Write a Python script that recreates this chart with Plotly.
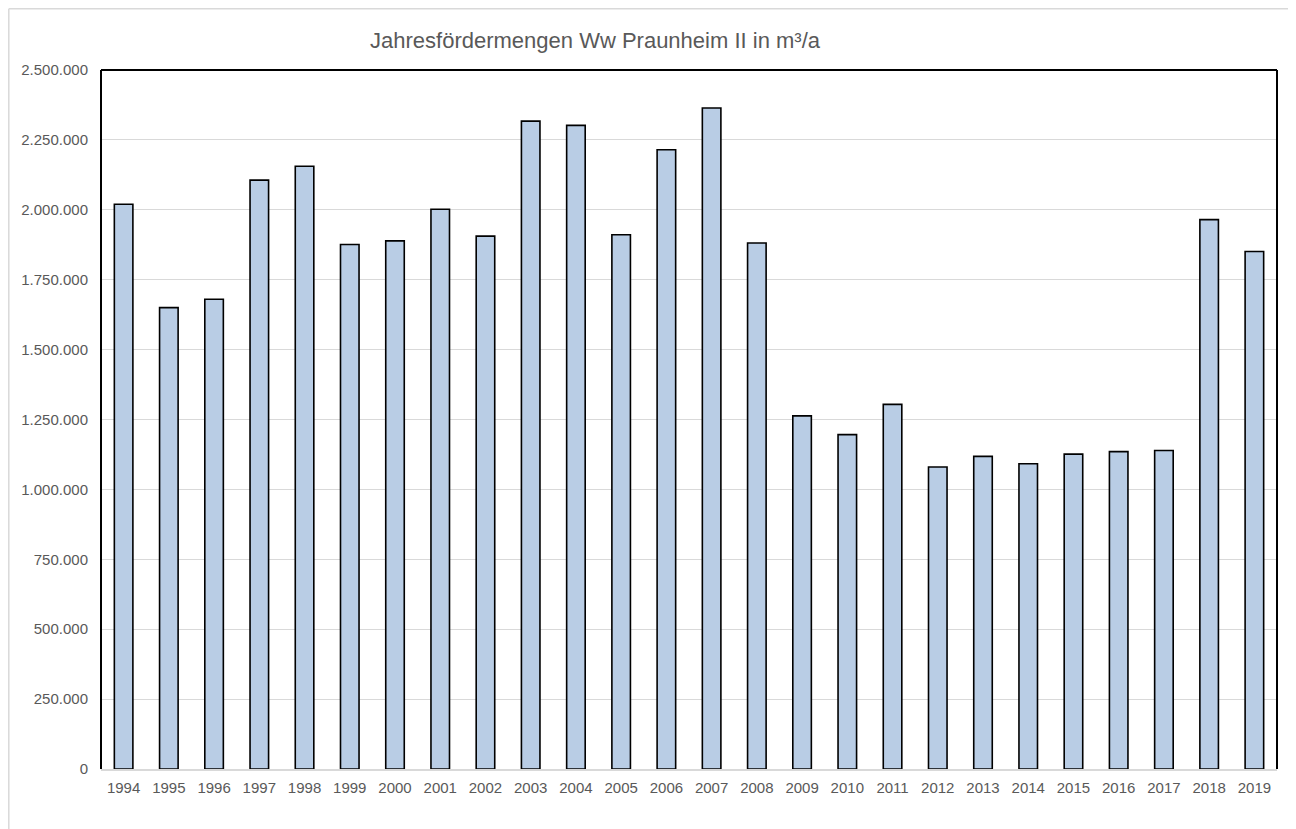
import plotly.graph_objects as go

years = [str(y) for y in range(1994, 2020)]
values = [2020000, 1650000, 1680000, 2106000, 2156000, 1876000, 1889000, 2002000,
          1906000, 2317000, 2302000, 1911000, 2215000, 2364000, 1881000, 1263000,
          1196000, 1304000, 1080000, 1118000, 1092000, 1126000, 1135000, 1139000,
          1965000, 1851000]
title_text = "Jahresfördermengen Ww Praunheim II in m³/a"

# page offset of the plotly div (body margin)
OFF = 8
W, H = 1282, 821
L, R, T, B = 93, 13, 62, 60
pw, ph = W - L - R, H - T - B

def px(x):  # page pixel -> paper x
    return (x - OFF - L) / pw

def py(y):  # page pixel -> paper y
    return (H - B - (y - OFF)) / ph

fig = go.Figure(go.Bar(
    x=years, y=values,
    marker=dict(color="#B9CDE5", line=dict(color="#000000", width=1.6)),
    width=0.41,
))

frame_gray = dict(color="#D9D9D9", width=1.5)
fig.update_layout(
    width=W, height=H,
    margin=dict(l=L, r=R, t=T, b=B),
    paper_bgcolor="white", plot_bgcolor="white",
    separators=",.",
    showlegend=False,
    font=dict(family="Liberation Sans, Arial, sans-serif", color="#595959", size=15),
    title=dict(text=title_text, x=px(595), xanchor="center", xref="paper",
               y=1 - (40 - OFF) / H, yanchor="middle",
               font=dict(size=22, color="#595959")),
    xaxis=dict(showgrid=False, showline=True, linecolor="#D9D9D9", linewidth=1.5,
               ticks="", tickfont=dict(size=15, color="#595959"), ticklabelstandoff=4),
    yaxis=dict(range=[0, 2500000], tickvals=list(range(0, 2500001, 250000)),
               tickformat=",d", showgrid=True, gridcolor="#D9D9D9", gridwidth=1.2,
               zeroline=False, showline=False, ticks="",
               tickfont=dict(size=15, color="#595959"), ticklabelstandoff=12),
    shapes=[
        dict(type="line", xref="paper", yref="paper", x0=0, x1=0, y0=0, y1=1,
             line=dict(color="black", width=2)),
        dict(type="line", xref="paper", yref="paper", x0=0, x1=1, y0=1, y1=1,
             line=dict(color="black", width=2)),
        dict(type="line", xref="paper", yref="paper", x0=1, x1=1, y0=0, y1=1,
             line=dict(color="black", width=2)),
        dict(type="line", xref="paper", yref="paper", x0=px(8.8), x1=px(8.8),
             y0=py(840), y1=py(8.8), line=frame_gray, layer="below"),
        dict(type="line", xref="paper", yref="paper", x0=px(8.8), x1=px(1289),
             y0=py(8.8), y1=py(8.8), line=frame_gray, layer="below"),
        dict(type="line", xref="paper", yref="paper", x0=px(1289), x1=px(1289),
             y0=py(840), y1=py(8.8), line=frame_gray, layer="below"),
    ],
)

fig.write_html("out.html")
